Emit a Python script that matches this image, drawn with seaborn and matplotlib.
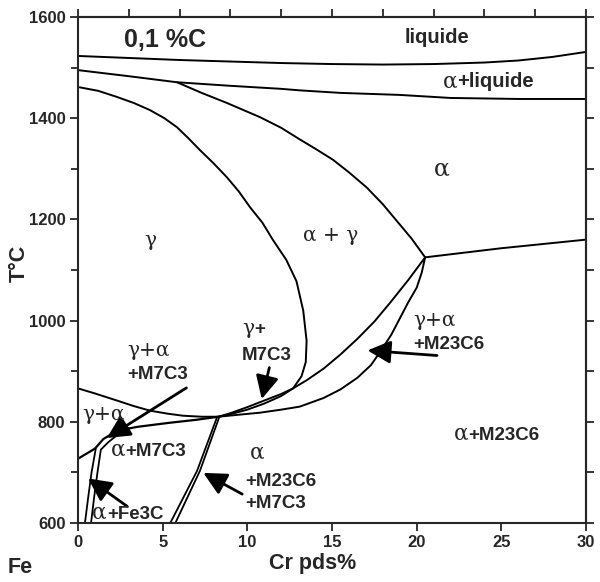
import numpy as np
import pandas as pd
import matplotlib
matplotlib.use('Agg')
import matplotlib.pyplot as plt
import seaborn as sns

sns.set_style('ticks')
plt.rcParams['font.family'] = ['Liberation Sans', 'DejaVu Sans']

# Phase boundaries (Cr wt% , T in deg C)
liquidus_cr = [0, 3, 6, 9, 12, 15, 18, 21, 24, 26, 28, 30]
liquidus_t = [1523, 1519, 1515, 1512, 1509, 1507, 1506, 1507, 1510, 1514, 1521, 1531]

solidus_cr = [0, 3, 5.85, 9, 12, 13.1, 15.5, 19, 22, 26, 30]
solidus_t = [1495, 1483, 1471, 1464, 1458, 1455, 1450, 1446, 1440, 1438, 1438]

# outer gamma loop, running down to the eutectoid point
loop_cr = [0.1, 1.2, 2.3, 3.3, 4.25, 5.1, 5.85, 6.5, 7.2, 8.0, 8.8, 9.5, 10.16, 10.9, 11.5,
           12.3, 12.9, 13.3, 13.5, 13.45, 13.2, 12.7, 12.0, 11.0, 10.0, 9.0, 8.3]
loop_t = [1461, 1454, 1442, 1430, 1416, 1400, 1382, 1361, 1337, 1311, 1283, 1255, 1224, 1193,
          1160, 1120, 1078, 1020, 960, 918, 890, 866, 851, 836, 824, 815, 810]

# alpha+gamma / alpha boundary
inner_cr = [5.85, 7.3, 8.8, 10.75, 12.0, 13.1, 14.0, 15.05, 16.0, 17.05, 18.0, 18.8, 19.7, 20.5]
inner_t = [1471, 1450, 1430, 1402, 1381, 1358, 1340, 1318, 1293, 1263, 1230, 1198, 1162, 1125]

right_cr = [20.5, 25, 30]
right_t = [1125, 1143, 1160]

# upper line from eutectoid point to the triple point
upper_cr = [8.3, 9.0, 10.0, 11.0, 12.0, 12.7, 13.5, 14.5, 15.5, 16.5, 17.5, 18.4, 19.5, 20.5]
upper_t = [810, 817, 829, 842, 855, 866, 882, 905, 933, 964, 998, 1034, 1080, 1125]

# lower line: from the left axis through the eutectoid point up to the triple point
lower_cr = [0, 1, 2.3, 3.3, 4.25, 5.3, 6.2, 7.3, 8.3, 9.5, 10.75, 12.0, 13.1, 14.5, 15.5,
            16.5, 17.3, 17.9, 18.5, 19.0, 19.5, 20.0, 20.3, 20.5]
lower_t = [866, 856, 842, 831, 822, 816, 812, 810, 810, 814, 818, 824, 830, 847, 864,
           887, 912, 941, 972, 1004, 1036, 1065, 1095, 1125]

# gamma+alpha / alpha+M7C3
m7_cr = [0, 0.5, 1.0, 1.5, 2.3, 3.5, 5.4, 7.0, 8.3]
m7_t = [727, 737, 747, 766, 782, 790, 798, 804, 810]

fe3c_left_cr = [0.41, 0.6, 0.8, 1.05]
fe3c_left_t = [600, 650, 700, 747]
fe3c_right_cr = [0.77, 0.95, 1.15, 1.35, 1.8, 2.4, 3.0]
fe3c_right_t = [600, 650, 700, 745, 760, 776, 788]

m23_left_cr = [5.45, 7.03, 8.2]
m23_left_t = [600, 703, 808]
m23_right_cr = [5.75, 7.2, 8.35]
m23_right_t = [600, 703, 810]

curves = {
    'liquidus': (liquidus_cr, liquidus_t, 1.4),
    'solidus': (solidus_cr, solidus_t, 1.4),
    'loop': (loop_cr, loop_t, 1.4),
    'inner': (inner_cr, inner_t, 1.4),
    'right': (right_cr, right_t, 1.4),
    'upper': (upper_cr, upper_t, 1.4),
    'lower': (lower_cr, lower_t, 1.4),
    'm7': (m7_cr, m7_t, 1.6),
    'fe3c_l': (fe3c_left_cr, fe3c_left_t, 1.3),
    'fe3c_r': (fe3c_right_cr, fe3c_right_t, 1.3),
    'm23_l': (m23_left_cr, m23_left_t, 1.3),
    'm23_r': (m23_right_cr, m23_right_t, 1.3),
}

# arrows: (tail, head)
arrows = [
    ((6.4, 867), (1.7, 768)),
    ((2.9, 633), (0.6, 688)),
    ((9.7, 657), (7.4, 699)),
    ((11.3, 907), (10.85, 845)),
    ((21.2, 931), (17.1, 941)),
]

fig = plt.figure(figsize=(6, 5.82), dpi=100)
ax = fig.add_axes([0.13, 0.1014, 0.8467, 0.8694])

for name, (cr, t, lw) in curves.items():
    df = pd.DataFrame({'cr': cr, 't': t})
    sns.lineplot(data=df, x='cr', y='t', sort=False, estimator=None,
                 color='black', lw=lw, ax=ax)

for tail, head in arrows:
    ax.annotate('', xy=head, xytext=tail,
                arrowprops=dict(arrowstyle='-|>,head_length=1.0,head_width=0.5',
                                lw=2, color='black', shrinkA=0, shrinkB=0,
                                mutation_scale=14))

ax.set_xlim(0, 30)
ax.set_ylim(600, 1600)
ax.set_xticks(range(0, 31, 5))
ax.set_yticks(range(600, 1601, 200))
ax.set_yticks(range(700, 1600, 200), minor=True)
for lab in ax.get_xticklabels() + ax.get_yticklabels():
    lab.set_fontweight('bold')
ax.tick_params(axis='both', which='major', direction='out', length=6, width=1.3,
               labelsize=12, pad=3)
ax.tick_params(axis='y', which='minor', direction='out', length=5, width=1.3)

top = ax.secondary_xaxis('top')
top.set_xticks(range(0, 31, 3))
top.set_xticklabels([])
top.tick_params(direction='out', length=6, width=1.3)
right = ax.secondary_yaxis('right')
right.set_yticks(range(600, 1601, 100))
right.set_yticklabels([])
right.tick_params(direction='out', length=6, width=1.3)
for sp in list(ax.spines.values()) + [top.spines['top'], right.spines['right']]:
    sp.set_linewidth(1.5)

ax.set_xlabel('Cr pds%', fontsize=15.5, fontweight='bold')
ax.xaxis.set_label_coords(0.4626, -0.060)
ax.set_ylabel('T°C', fontsize=15.5, fontweight='bold')
ax.yaxis.set_label_coords(-0.0955, 0.513)
fig.text(8 / 600, 1 - 573 / 582, 'Fe', fontsize=15.5, fontweight='bold',
         ha='left', va='baseline')

GREEK = 'DejaVu Serif'


def greek(x, y, s, size=14.5, ha='left'):
    ax.text(x, y, s, family=GREEK, fontsize=size, ha=ha, va='baseline')


def bold(x, y, s, size=13.5, ha='left'):
    ax.text(x, y, s, fontsize=size, fontweight='bold', ha=ha, va='baseline')


bold(2.72, 1541, '0,1 %C', size=18)
bold(19.26, 1549, 'liquide', size=14.5)
greek(22.39, 1461, 'α', ha='right', size=15.5)
bold(22.39, 1461, '+liquide', size=14.5)
greek(21.5, 1287, 'α', size=17, ha='center')
greek(4.25, 1147, 'γ', ha='center')
greek(14.9, 1158, 'α + γ', ha='center')

greek(2.9, 931, 'γ+α')
bold(2.9, 885, '+M7C3')
greek(0.24, 804, 'γ+α')
greek(2.78, 733, 'α', ha='right', size=15.5)
bold(2.78, 733, '+M7C3')
greek(1.71, 608, 'α', ha='right', size=15.5)
bold(1.71, 608, '+Fe3C')

greek(10.4, 974, 'γ', ha='right')
bold(10.4, 974, '+')
bold(9.69, 923, 'M7C3')

greek(10.57, 727, 'α', ha='center', size=15.5)
bold(9.86, 673, '+M23C6')
bold(9.86, 630, '+M7C3')

greek(19.8, 990, 'γ+α')
bold(19.8, 943, '+M23C6')
greek(23.04, 764, 'α', ha='right', size=15.5)
bold(23.04, 764, '+M23C6')

fig.savefig('out.png', dpi=100)
